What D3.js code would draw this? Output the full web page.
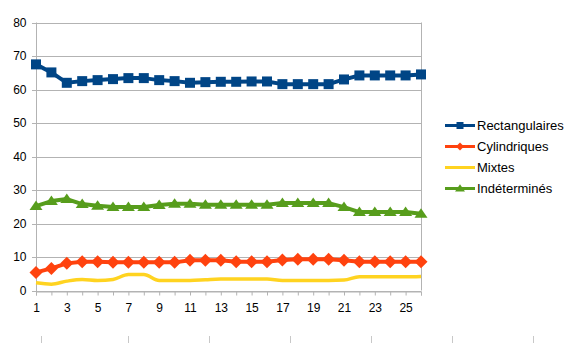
<!DOCTYPE html>
<html>
<head>
<meta charset="utf-8">
<script src="https://cdn.jsdelivr.net/npm/d3@7"></script>
<style>
  html, body { margin: 0; padding: 0; background: #fff; }
  svg { display: block; }
  text { font-family: "Liberation Sans", Arial, sans-serif; fill: #000; }
</style>
</head>
<body>
<svg id="chart" width="572" height="343"></svg>
<script>
// Categories (1..26) and the four series
const categories = d3.range(1, 27);
const rectangulaires = [67.5, 65.1, 62.0, 62.5, 62.8, 63.1, 63.4, 63.4, 62.8, 62.5, 62.0, 62.2, 62.3, 62.3, 62.4, 62.4, 61.6, 61.6, 61.6, 61.6, 63.0, 64.2, 64.2, 64.2, 64.2, 64.5];
const cylindriques   = [5.4, 6.6, 8.1, 8.6, 8.6, 8.4, 8.4, 8.4, 8.4, 8.4, 9.0, 9.0, 9.0, 8.6, 8.6, 8.6, 9.1, 9.3, 9.3, 9.3, 9.0, 8.6, 8.6, 8.6, 8.6, 8.6];
const mixtes         = [2.3, 1.9, 2.8, 3.3, 3.0, 3.3, 4.8, 4.8, 3.0, 3.0, 3.0, 3.2, 3.4, 3.4, 3.4, 3.4, 3.0, 3.0, 3.0, 3.0, 3.1, 4.1, 4.1, 4.1, 4.1, 4.2];
const indetermines   = [25.2, 26.7, 27.3, 25.8, 25.3, 24.9, 24.9, 24.9, 25.5, 25.9, 25.9, 25.6, 25.6, 25.6, 25.6, 25.6, 26.1, 26.1, 26.1, 26.1, 24.9, 23.4, 23.4, 23.4, 23.4, 22.9];
const yTicks = [0, 10, 20, 30, 40, 50, 60, 70, 80];

const seriesNames = ["Rectangulaires", "Cylindriques", "Mixtes", "Indéterminés"];
const seriesColors = ["#004586", "#ff420e", "#ffd320", "#579d1c"];
const seriesMarkers = ["square", "diamond", null, "triangle"];
const seriesValues = [rectangulaires, cylindriques, mixtes, indetermines];

const series = seriesNames.map((name, i) => ({
  name, color: seriesColors[i], marker: seriesMarkers[i],
  values: seriesValues[i].map((v, j) => ({ x: categories[j], y: v }))
}));

const svg = d3.select("#chart");
const plot = { left: 36, right: 421, top: 22.5, bottom: 290.5 };

const x = d3.scalePoint().domain(categories).range([plot.left, plot.right]);
const y = d3.scaleLinear().domain([0, 80]).range([plot.bottom, plot.top]);

const gridColor = "#b3b3b3";

// Horizontal gridlines
svg.append("g")
  .selectAll("line")
  .data(yTicks)
  .join("line")
  .attr("x1", plot.left - 4).attr("x2", plot.right)
  .attr("y1", d => Math.round(y(d)) + 0.5).attr("y2", d => Math.round(y(d)) + 0.5)
  .attr("stroke", gridColor).attr("stroke-width", 1);

// Right border of the plot area
svg.append("line")
  .attr("x1", plot.right + 0.5).attr("x2", plot.right + 0.5)
  .attr("y1", plot.top).attr("y2", plot.bottom)
  .attr("stroke", gridColor);

// Y axis
const yAxis = svg.append("g")
  .attr("transform", `translate(${plot.left + 0.5},0)`)
  .call(d3.axisLeft(y).tickValues(yTicks).tickSize(0).tickPadding(10));
yAxis.select(".domain").remove();
yAxis.selectAll("text").attr("font-size", 12).style("font-family", "'Liberation Sans', Arial, sans-serif").attr("fill", "#000");
svg.append("line")
  .attr("x1", plot.left + 0.5).attr("x2", plot.left + 0.5)
  .attr("y1", plot.top).attr("y2", plot.bottom + 4)
  .attr("stroke", gridColor);

// X axis
const xAxis = svg.append("g")
  .attr("transform", `translate(0,${Math.round(y(0)) + 0.5})`)
  .call(d3.axisBottom(x).tickSize(4).tickPadding(8).tickFormat(d => d % 2 === 1 ? d : ""));
xAxis.select(".domain").attr("stroke", gridColor);
xAxis.selectAll(".tick line").attr("stroke", gridColor);
xAxis.selectAll("text").attr("font-size", 12).style("font-family", "'Liberation Sans', Arial, sans-serif").attr("fill", "#000");

// Secondary tick row along the bottom edge
const bottomTicks = d3.scaleLinear().domain([0, 1]).range([128, 533]);
const bottomTickPos = [plot.left + 5].concat(d3.range(0, 1.0001, 0.2).map(t => bottomTicks(t)));
svg.append("g")
  .selectAll("line")
  .data(bottomTickPos)
  .join("line")
  .attr("x1", d => Math.round(d) + 0.5).attr("x2", d => Math.round(d) + 0.5)
  .attr("y1", 336).attr("y2", 343)
  .attr("stroke", "#c8c8c8");

// Marker drawing
function markerPath(type, size) {
  const s = size / 2;
  if (type === "square") return `M${-s},${-s}H${s}V${s}H${-s}Z`;
  if (type === "diamond") return `M0,${-s}L${s},0L0,${s}L${-s},0Z`;
  if (type === "triangle") return `M0,${-s * 0.85}L${s},${s * 0.6}L${-s},${s * 0.6}Z`;
  return "";
}

const lineLinear = d3.line().x(d => x(d.x)).y(d => y(d.y));
const lineSmooth = d3.line().x(d => x(d.x)).y(d => y(d.y)).curve(d3.curveMonotoneX);

// Draw order: yellow line under the others
const drawOrder = [2, 3, 1, 0];
drawOrder.forEach(i => {
  const s = series[i];
  const g = svg.append("g");
  g.append("path")
    .datum(s.values)
    .attr("d", s.marker ? lineLinear : lineSmooth)
    .attr("fill", "none")
    .attr("stroke", s.color)
    .attr("stroke-width", s.marker ? 4 : 3.5)
    .attr("stroke-linejoin", "round");
  if (s.marker) {
    const size = s.marker === "square" ? 10 : s.marker === "diamond" ? 13 : 13;
    g.selectAll("path.m")
      .data(s.values)
      .join("path")
      .attr("class", "m")
      .attr("transform", d => `translate(${x(d.x)},${y(d.y)})`)
      .attr("d", markerPath(s.marker, size))
      .attr("fill", s.color);
  }
});

// Legend
const legend = svg.append("g");
const legendY = d3.scalePoint().domain(seriesNames).range([125.5, 188.5]);
series.forEach(s => {
  const ly = legendY(s.name);
  const g = legend.append("g").attr("transform", `translate(0,${ly})`);
  g.append("line").attr("x1", 445).attr("x2", 475).attr("y1", 0).attr("y2", 0)
    .attr("stroke", s.color).attr("stroke-width", 3);
  if (s.marker) {
    const size = s.marker === "square" ? 7 : s.marker === "diamond" ? 8 : 10;
    g.append("path").attr("transform", "translate(460,0)")
      .attr("d", markerPath(s.marker, size)).attr("fill", s.color);
  }
  g.append("text").attr("x", 477).attr("y", 0).attr("dy", "0.36em")
    .attr("font-size", 13).text(s.name);
});
</script>
</body>
</html>
